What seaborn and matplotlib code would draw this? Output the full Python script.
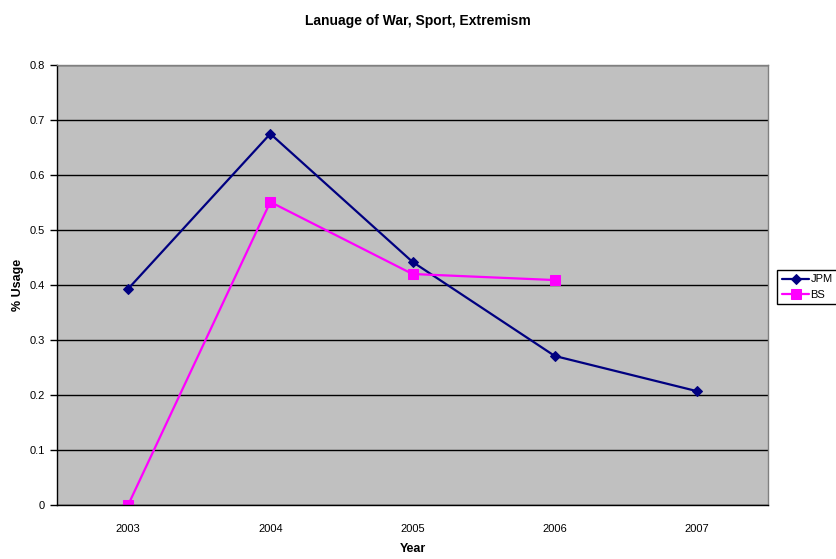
import matplotlib
matplotlib.use("Agg")
import matplotlib.pyplot as plt
import seaborn as sns
import numpy as np
import pandas as pd

years = ["2003", "2004", "2005", "2006", "2007"]
jpm = [0.393, 0.675, 0.442, 0.271, 0.207]
bs = [0.0, 0.551, 0.420, 0.409, np.nan]
series_names = ["JPM", "BS"]
y_ticks = [0, 0.1, 0.2, 0.3, 0.4, 0.5, 0.6, 0.7, 0.8]

sns.set_theme(style="white")
plt.rcParams["font.family"] = ["Liberation Sans", "DejaVu Sans"]
plt.rcParams["text.color"] = "black"
plt.rcParams["axes.labelcolor"] = "black"
plt.rcParams["xtick.color"] = "black"
plt.rcParams["ytick.color"] = "black"

df = pd.DataFrame({
    "pos": list(range(len(years))) * 2,
    "usage": jpm + bs,
    "series": [series_names[0]] * len(years) + [series_names[1]] * len(years),
})

fig = plt.figure(figsize=(8.36, 5.59), dpi=100)
ax = fig.add_axes([0.0682, 0.0966, 0.8505, 0.7871])
ax.set_facecolor("#c0c0c0")

colors = {"JPM": "#000080", "BS": "#ff00ff"}
markers = {"JPM": "D", "BS": "s"}
for name in series_names:
    sub = df[df["series"] == name].dropna()
    sns.lineplot(data=sub, x="pos", y="usage", ax=ax, color=colors[name],
                 marker=markers[name], markersize=5.5 if name == "JPM" else 6.5,
                 markeredgecolor=colors[name], linewidth=1.6, label=name)

ax.set_xlim(-0.5, len(years) - 0.5)
ax.set_ylim(0, 0.8)
ax.set_yticks(y_ticks)
ax.set_yticklabels([f"{t:g}" for t in y_ticks], fontsize=8)
ax.yaxis.grid(True, color="black", linewidth=1)
ax.set_axisbelow(True)

ax.set_xticks(range(len(years)))
ax.set_xticklabels(years, fontsize=8)
ax.set_xticks(np.arange(-0.5, len(years), 1.0), minor=True)
ax.tick_params(axis="x", which="major", length=0, pad=14)
ax.tick_params(axis="x", which="minor", length=5, width=1, color="black", direction="out")
ax.tick_params(axis="y", length=5, width=1, color="black", direction="out", left=True, pad=4)

for side in ["top", "right"]:
    ax.spines[side].set_color("#808080")
    ax.spines[side].set_linewidth(1)
for side in ["left", "bottom"]:
    ax.spines[side].set_color("black")
    ax.spines[side].set_linewidth(1)

ax.set_xlabel("Year", fontsize=9, fontweight="bold", labelpad=6)
ax.set_ylabel("% Usage", fontsize=9, fontweight="bold", labelpad=4)
fig.suptitle("Lanuage of War, Sport, Extremism", fontsize=10, fontweight="bold", y=0.975)

leg = ax.legend(loc="center left", bbox_to_anchor=(1.013, 0.495), fontsize=8,
                frameon=True, fancybox=False, edgecolor="black", framealpha=1,
                handlelength=2.5, handletextpad=0.1, borderpad=0.4,
                labelspacing=0.5, borderaxespad=0)
leg.get_frame().set_linewidth(1)

fig.savefig("out.png", dpi=100, facecolor="white")
